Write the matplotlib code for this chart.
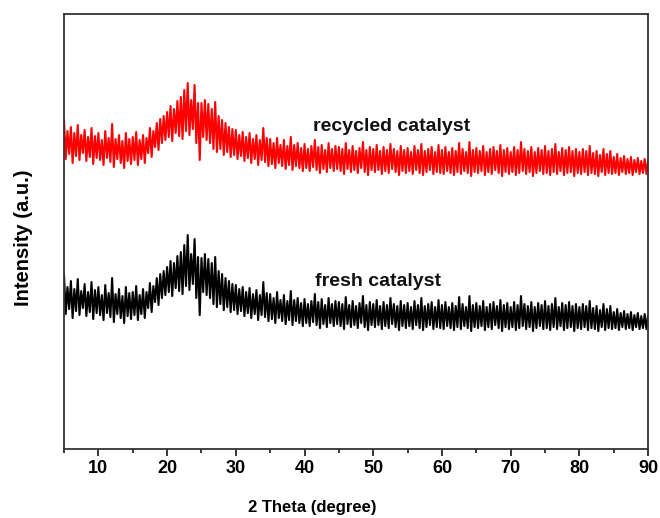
import numpy as np
import matplotlib
matplotlib.use("Agg")
import matplotlib.pyplot as plt

plt.rcParams['font.family'] = ['Liberation Sans', 'DejaVu Sans']
plt.rcParams['font.weight'] = 'bold'

# scan grid: envelope tops at 5.0, 5.5, ... 90.0
# and envelope bottoms at 5.25, 5.75, ... 89.75 (degrees 2 theta)
theta_start = 5.0
theta_step = 0.5

# recycled catalyst (red), intensity in a.u.
recycled_upper = [
    329, 318, 322, 316, 324, 314, 319, 312, 321, 313,
    316, 309, 318, 311, 325, 310, 314, 308, 316, 310,
    312, 317, 309, 314, 311, 321, 318, 326, 330, 333,
    337, 343, 340, 348, 352, 359, 366, 349, 364, 346,
    346, 349, 345, 340, 347, 333, 329, 326, 322, 320,
    319, 314, 317, 312, 316, 310, 314, 309, 321, 311,
    310, 306, 311, 304, 309, 303, 312, 304, 306, 301,
    305, 300, 303, 309, 302, 304, 299, 306, 300, 303,
    302, 300, 306, 299, 303, 298, 301, 307, 299, 302,
    300, 304, 298, 302, 299, 305, 300, 298, 303, 299,
    301, 297, 303, 299, 305, 298, 300, 302, 297, 304,
    299, 302, 297, 301, 298, 306, 300, 297, 307, 299,
    301, 298, 303, 297, 300, 302, 298, 304, 299, 301,
    297, 302, 299, 307, 300, 298, 302, 297, 301, 299,
    303, 298, 300, 305, 297, 301, 299, 302, 298, 300,
    297, 300, 298, 303, 296, 298, 294, 300, 295, 298,
    292, 295, 291, 293, 290, 292, 289, 291, 288, 290,
    289,
]
recycled_lower = [
    290, 295, 286, 293, 289, 296, 288, 292, 285, 291,
    289, 284, 291, 287, 282, 290, 286, 281, 288, 285,
    289, 284, 290, 286, 296, 292, 302, 299, 306, 309,
    312, 308, 316, 313, 310, 318, 314, 320, 306, 289,
    312, 309, 306, 300, 297, 300, 294, 297, 292, 294,
    290, 293, 288, 291, 286, 290, 284, 289, 287, 283,
    285, 281, 286, 283, 280, 284, 279, 283, 281, 278,
    281, 278, 282, 279, 276, 280, 277, 281, 278, 280,
    278, 275, 280, 277, 279, 276, 281, 277, 274, 279,
    277, 279, 275, 278, 276, 280, 277, 274, 278, 276,
    278, 275, 279, 276, 274, 277, 279, 275, 277, 276,
    275, 278, 276, 274, 277, 275, 278, 276, 273, 277,
    276, 278, 274, 277, 275, 279, 276, 273, 277, 275,
    277, 274, 276, 278, 275, 277, 273, 276, 278, 275,
    276, 274, 277, 275, 278, 274, 276, 277, 273, 276,
    275, 277, 274, 276, 275, 273, 277, 274, 276, 275,
    276, 274, 277, 275, 276, 274, 277, 275, 276, 275,
]

# fresh catalyst (black)
fresh_upper = [
    174, 162, 168, 160, 170, 158, 165, 157, 167, 159,
    162, 154, 164, 156, 171, 155, 160, 153, 162, 156,
    157, 163, 154, 160, 157, 166, 163, 171, 175, 178,
    182, 188, 186, 193, 197, 204, 214, 195, 210, 192,
    191, 195, 190, 186, 192, 178, 175, 171, 168, 165,
    164, 160, 162, 157, 161, 155, 159, 154, 167, 156,
    155, 151, 157, 149, 154, 148, 158, 149, 151, 146,
    150, 145, 148, 155, 147, 150, 144, 151, 145, 148,
    147, 145, 152, 144, 148, 143, 146, 153, 144, 147,
    145, 149, 143, 147, 144, 151, 145, 143, 148, 144,
    146, 142, 148, 144, 151, 143, 145, 147, 142, 149,
    144, 147, 142, 146, 143, 152, 145, 142, 153, 144,
    146, 143, 148, 142, 145, 147, 143, 149, 144, 146,
    142, 147, 144, 153, 145, 143, 147, 142, 146, 144,
    148, 143, 145, 151, 142, 146, 144, 147, 143, 145,
    142, 145, 143, 148, 141, 143, 139, 145, 140, 143,
    137, 140, 136, 138, 135, 137, 134, 136, 133, 135,
    134,
]
fresh_lower = [
    135, 140, 131, 138, 134, 141, 133, 137, 130, 136,
    134, 129, 136, 132, 127, 135, 131, 126, 133, 130,
    134, 129, 135, 131, 141, 137, 147, 144, 151, 154,
    157, 153, 161, 158, 155, 163, 159, 165, 151, 134,
    157, 154, 151, 145, 142, 145, 139, 142, 137, 139,
    135, 138, 133, 136, 131, 135, 129, 134, 132, 128,
    130, 126, 131, 128, 125, 129, 124, 128, 126, 123,
    126, 123, 127, 124, 121, 125, 122, 126, 123, 125,
    123, 120, 125, 122, 124, 121, 126, 122, 119, 124,
    122, 124, 120, 123, 121, 125, 122, 119, 123, 121,
    123, 120, 124, 121, 119, 122, 124, 120, 122, 121,
    120, 123, 121, 119, 122, 120, 123, 121, 118, 122,
    121, 123, 119, 122, 120, 124, 121, 118, 122, 120,
    122, 119, 121, 123, 120, 122, 118, 121, 123, 120,
    121, 119, 122, 120, 123, 119, 121, 122, 118, 121,
    120, 122, 119, 121, 120, 118, 122, 119, 121, 120,
    121, 119, 122, 120, 121, 119, 122, 120, 121, 120,
]


def trace(upper, lower):
    # alternate top / bottom readings so the line zig-zags like the raw scan
    xu = theta_start + theta_step * np.arange(len(upper))
    xl = theta_start + theta_step / 2 + theta_step * np.arange(len(lower))
    x = np.empty(len(upper) + len(lower))
    y = np.empty_like(x)
    x[0::2], y[0::2] = xu, upper
    x[1::2], y[1::2] = xl, lower
    return x, y


fig = plt.figure(figsize=(6.6, 5.18), dpi=100)
ax = fig.add_axes([0.097, 0.133, 0.885, 0.840])

xr, yr = trace(recycled_upper, recycled_lower)
xf, yf = trace(fresh_upper, fresh_lower)
ax.plot(xr, yr, color='#ff0000', lw=1.5)
ax.plot(xf, yf, color='black', lw=1.5)

ax.text(41.2, 323, 'recycled catalyst', fontsize=14, fontweight='bold',
        va='center', color='#111111')
ax.text(41.5, 168, 'fresh catalyst', fontsize=14, fontweight='bold',
        va='center', color='#111111')

ax.set_xlim(5, 90)
ax.set_ylim(0, 435)
ax.set_yticks([])
ax.set_xticks(np.arange(10, 91, 10))
ax.set_xticks(np.arange(5, 91, 10), minor=True)
ax.tick_params(axis='x', which='major', direction='out', length=5, width=1.1,
               labelsize=13, pad=3)
ax.tick_params(axis='x', which='minor', direction='out', length=3, width=1.1)
for s in ax.spines.values():
    s.set_linewidth(1.3)
    s.set_color('#333333')

ax.set_xlabel('2 Theta (degree)', fontsize=12, fontweight='bold')
ax.xaxis.set_label_coords(0.425, -0.117)
ax.set_ylabel('Intensity (a.u.)', fontsize=14.5, fontweight='bold')
ax.yaxis.set_label_coords(-0.053, 0.485)

fig.savefig('out.png', dpi=100)
